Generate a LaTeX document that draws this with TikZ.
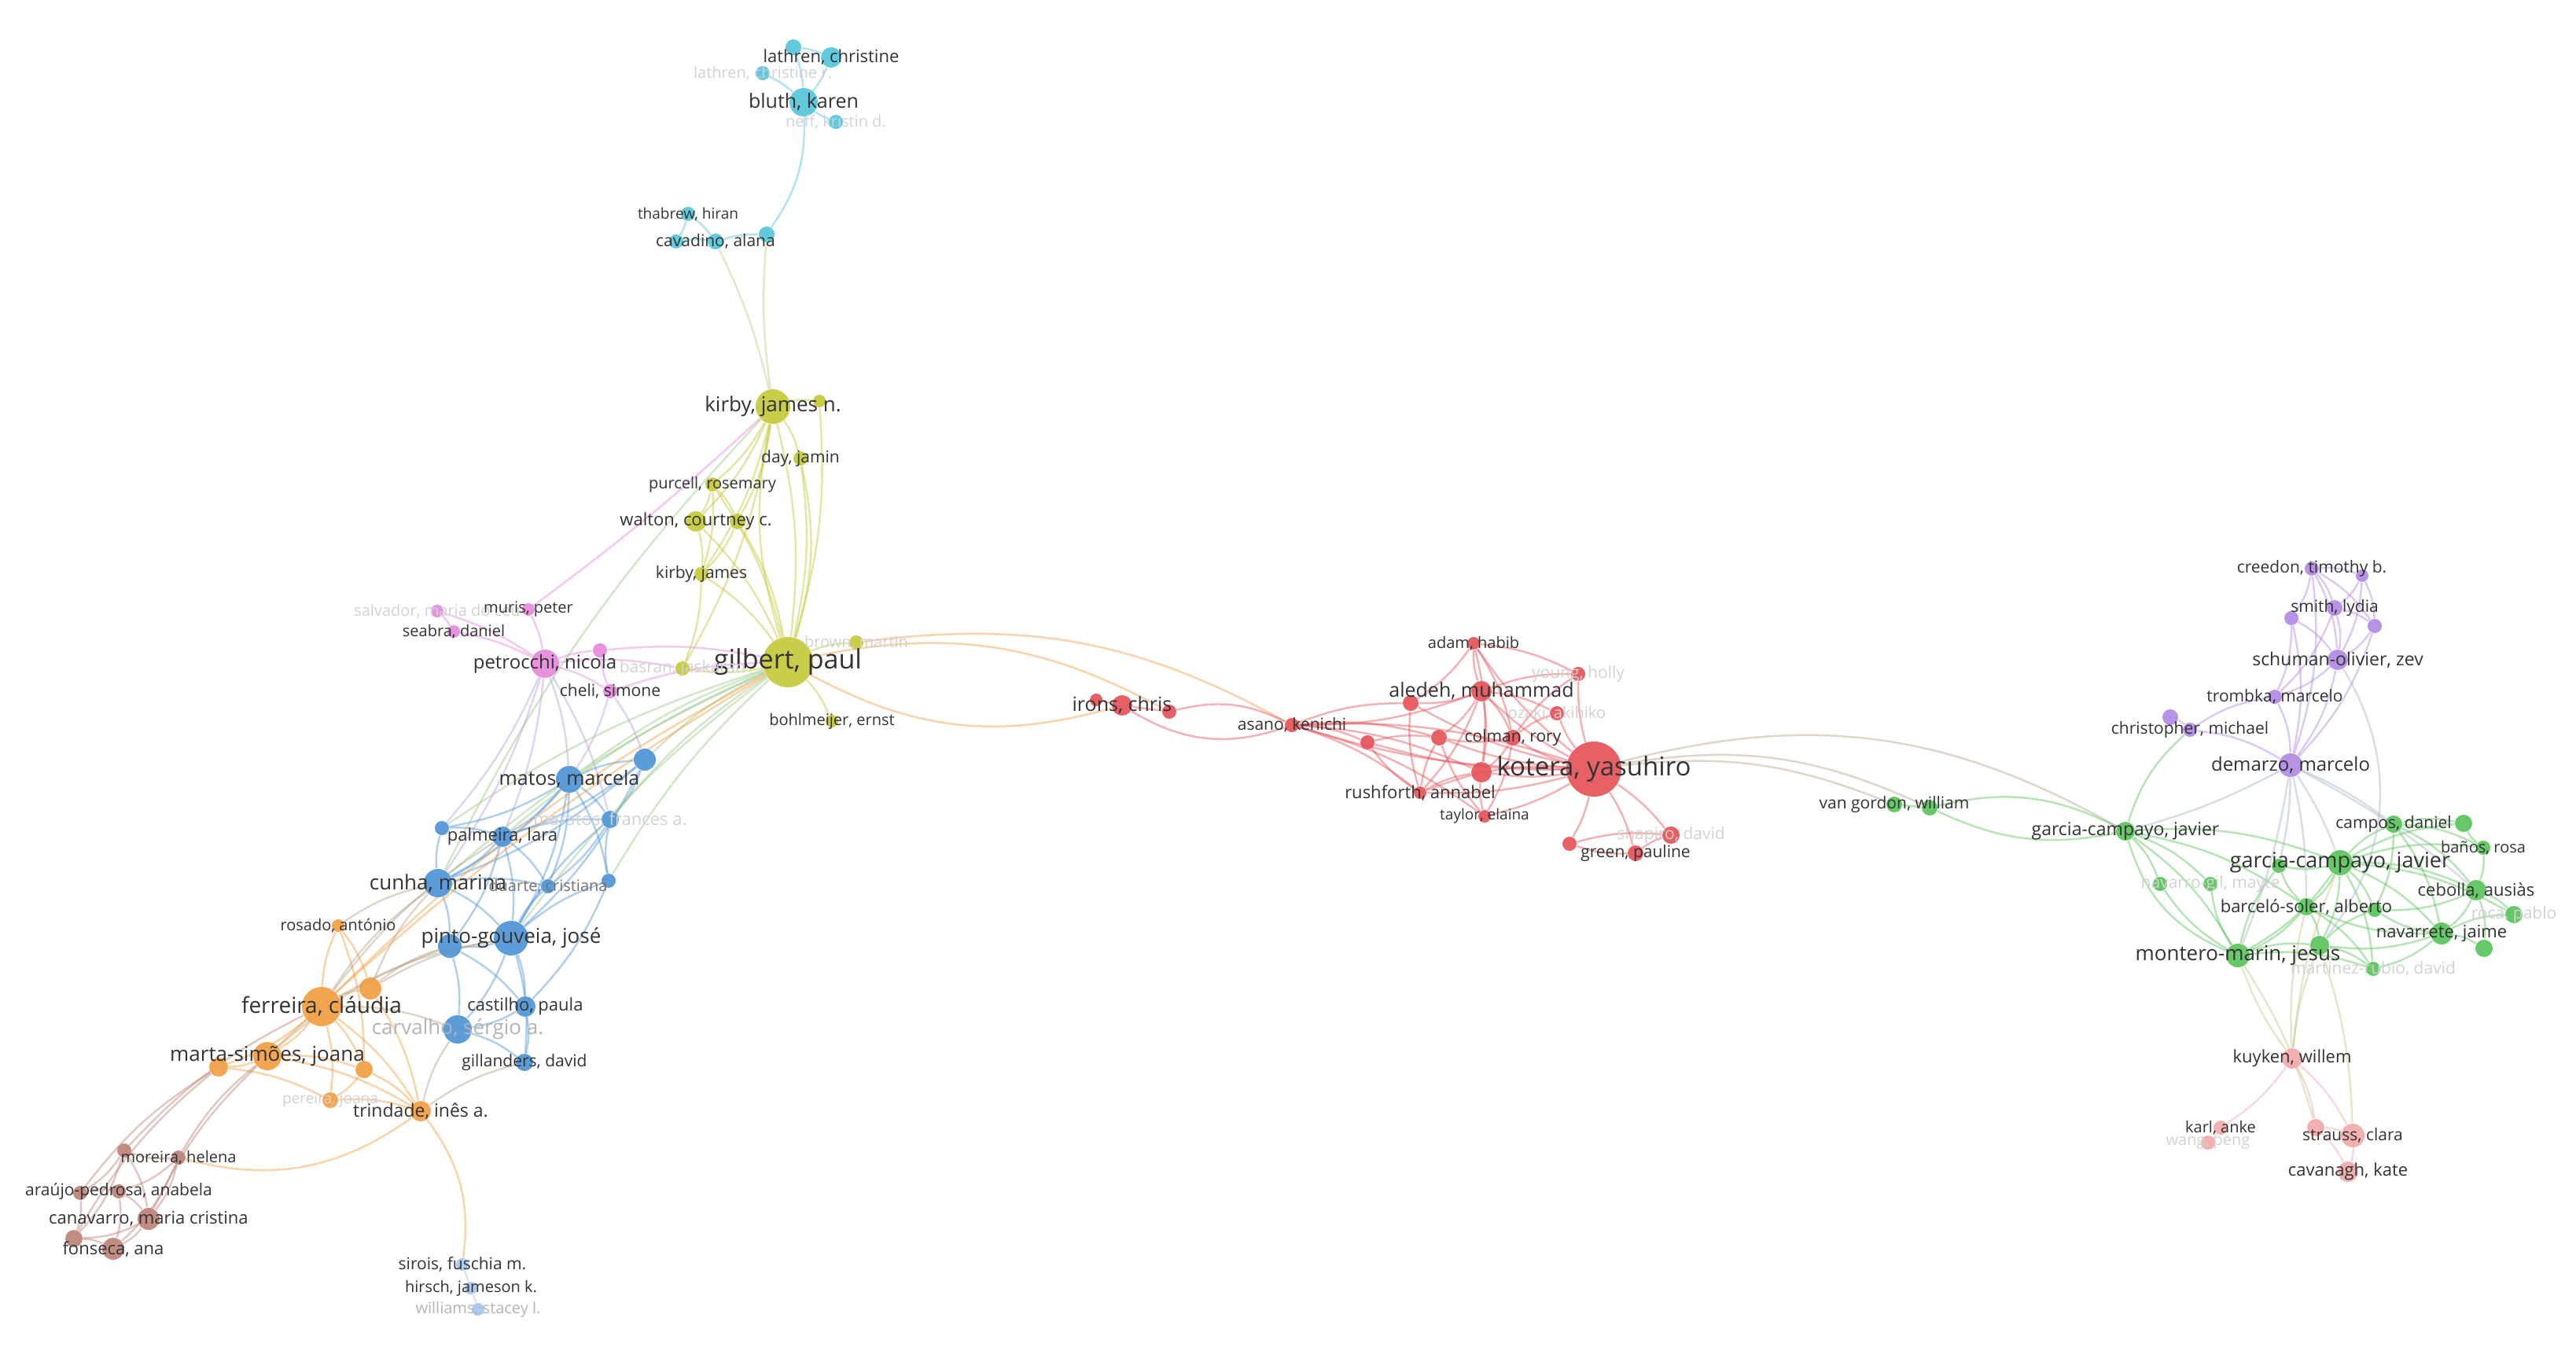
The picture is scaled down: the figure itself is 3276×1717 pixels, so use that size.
\documentclass[tikz,border=0pt]{standalone}
\usepackage{fontspec}
\setmainfont{Open Sans}
\definecolor{cy}{HTML}{56C5DA}
\definecolor{ye}{HTML}{C5C93A}
\definecolor{pk}{HTML}{E589DC}
\definecolor{bl}{HTML}{4F95D6}
\definecolor{or}{HTML}{F29F42}
\definecolor{br}{HTML}{BC8479}
\definecolor{rd}{HTML}{E4535A}
\definecolor{pu}{HTML}{B08AE3}
\definecolor{gr}{HTML}{5BC45B}
\definecolor{lp}{HTML}{F3AAAA}
\definecolor{lb}{HTML}{A8C6EE}
\definecolor{yb}{HTML}{9CC98A}
\definecolor{ob}{HTML}{B9A58C}
\definecolor{gp}{HTML}{A6B8C8}
\definecolor{gl}{HTML}{C9C98E}
\definecolor{lav}{HTML}{B9A2E6}
\definecolor{lbltxt}{HTML}{333333}
\definecolor{faded}{HTML}{D2D2D2}
\definecolor{midfaded}{HTML}{B4B4B4}
\pgfdeclarelayer{bgl}
\pgfdeclarelayer{edges}
\pgfsetlayers{bgl,edges,main}
\newcommand\fpx[1]{\fontsize{\the\dimexpr0.2845pt*#1\relax}{\the\dimexpr0.34pt*#1\relax}\selectfont}
\newcommand\nd[5]{\node[dot,fill=#5,minimum size={#4*0.02cm}] (#1) at (#2,#3) {};}
\newcommand\lb[3]{\node[lbl,font=\fpx{#2}] at (#1) {#3};}
\newcommand\lf[3]{\node[lbl,text=faded,font=\fpx{#2}] at (#1) {#3};}
\newcommand\lm[3]{\node[lbl,text=midfaded,font=\fpx{#2}] at (#1) {#3};}
\begin{document}
\begin{tikzpicture}[x=0.01cm,y=-0.01cm,
  dot/.style={circle,inner sep=0pt,draw=none,fill opacity=0.92},
  lbl/.style={inner sep=0pt,text=lbltxt,anchor=center},
  ec/.style={draw=#1,line width=0.7pt,draw opacity=0.45}]
\begin{pgfonlayer}{bgl}
\fill[white] (0,0) rectangle (3276,1717);
\end{pgfonlayer}
\useasboundingbox (0,0) rectangle (3276,1717);
% ---------- nodes: cyan
\nd{c0}{1009}{60}{10}{cy}
\nd{lathren}{1057}{73}{13}{cy}
\nd{lathrenr}{970}{93}{9}{cy}
\nd{bluth}{1022}{130}{18}{cy}
\nd{neff}{1063}{155}{9}{cy}
\nd{thabrew}{875}{272}{9}{cy}
\nd{cA}{860}{307}{9}{cy}
\nd{cavadino}{910}{307}{10}{cy}
\nd{c3}{975}{298}{10}{cy}
% yellow
\nd{kirbyjn}{983}{517}{22}{ye}
\nd{y1}{1042}{510}{8}{ye}
\nd{day}{1018}{583}{9}{ye}
\nd{purcell}{906}{616}{9}{ye}
\nd{walton}{885}{663}{13}{ye}
\nd{walton2}{938}{663}{10}{ye}
\nd{kirbyj}{892}{730}{9}{ye}
\nd{gilbert}{1002}{842}{32}{ye}
\nd{brown}{1089}{817}{9}{ye}
\nd{basran}{868}{850}{9}{ye}
\nd{bohl}{1058}{917}{8}{ye}
% pink
\nd{salvador}{556}{777}{8}{pk}
\nd{muris}{672}{775}{8}{pk}
\nd{seabra}{577}{803}{8}{pk}
\nd{petrocchi}{693}{844}{18}{pk}
\nd{p1}{763}{827}{9}{pk}
\nd{cheli}{776}{879}{9}{pk}
% blue
\nd{b820}{820}{966}{14}{bl}
\nd{matos}{724}{991}{17}{bl}
\nd{maratos}{776}{1042}{11}{bl}
\nd{xavier}{562}{1053}{9}{bl}
\nd{palmeira}{639}{1064}{13}{bl}
\nd{cunha}{557}{1123}{18}{bl}
\nd{duarte}{697}{1127}{9}{bl}
\nd{b774}{774}{1120}{9}{bl}
\nd{pinto}{650}{1193}{22}{bl}
\nd{b572}{572}{1203}{15}{bl}
\nd{castilho}{668}{1280}{13}{bl}
\nd{carvalho}{582}{1309}{18}{bl}
\nd{gillanders}{667}{1351}{11}{bl}
% orange
\nd{rosado}{430}{1177}{8}{or}
\nd{o471}{471}{1257}{14}{or}
\nd{ferreira}{409}{1280}{25}{or}
\nd{marta}{340}{1343}{18}{or}
\nd{marta2}{278}{1357}{12}{or}
\nd{o463}{463}{1360}{11}{or}
\nd{pereira}{420}{1399}{10}{or}
\nd{trindade}{535}{1413}{13}{or}
% brown
\nd{moreira2}{158}{1463}{9}{br}
\nd{moreira}{227}{1472}{9}{br}
\nd{araujo1}{102}{1517}{9}{br}
\nd{araujo}{151}{1515}{9}{br}
\nd{canavarro}{189}{1550}{14}{br}
\nd{fonseca1}{94}{1575}{11}{br}
\nd{fonseca}{144}{1588}{14}{br}
% light blue
\nd{sirois}{588}{1608}{8}{lb}
\nd{hirsch}{599}{1638}{8}{lb}
\nd{williams}{608}{1665}{8}{lb}
% red
\nd{irons1}{1394}{890}{8}{rd}
\nd{irons}{1427}{897}{13}{rd}
\nd{irons2}{1487}{905}{9}{rd}
\nd{asano}{1643}{922}{9}{rd}
\nd{r944}{1739}{944}{9}{rd}
\nd{kirbyR}{1830}{938}{10}{rd}
\nd{adam}{1874}{818}{8}{rd}
\nd{young}{2007}{857}{9}{rd}
\nd{aledeh1}{1794}{894}{10}{rd}
\nd{aledeh}{1884}{879}{13}{rd}
\nd{ozaki}{1980}{907}{9}{rd}
\nd{colman}{1924}{938}{10}{rd}
\nd{rK}{1884}{982}{13}{rd}
\nd{kotera}{2027}{978}{35}{rd}
\nd{rushforth}{1806}{1008}{8}{rd}
\nd{taylor}{1888}{1038}{8}{rd}
\nd{r1073}{1996}{1073}{9}{rd}
\nd{shapiro}{2125}{1062}{11}{rd}
\nd{green}{2080}{1085}{10}{rd}
% green
\nd{vg1}{2409}{1023}{10}{gr}
\nd{vg2}{2454}{1027}{10}{gr}
\nd{garciaL}{2703}{1057}{12}{gr}
\nd{garcia}{2976}{1097}{16}{gr}
\nd{g2898}{2898}{1101}{9}{gr}
\nd{campos}{3044}{1048}{11}{gr}
\nd{campos2}{3133}{1047}{11}{gr}
\nd{banos}{3158}{1078}{9}{gr}
\nd{navarro1}{2747}{1124}{9}{gr}
\nd{navarro}{2811}{1124}{9}{gr}
\nd{cebolla}{3149}{1132}{13}{gr}
\nd{barcelo}{2933}{1153}{11}{gr}
\nd{barcelo2}{3020}{1157}{9}{gr}
\nd{roca}{3197}{1163}{11}{gr}
\nd{navarrete}{3105}{1187}{14}{gr}
\nd{g3159}{3159}{1206}{11}{gr}
\nd{montero}{2846}{1215}{15}{gr}
\nd{montero2}{2950}{1202}{12}{gr}
\nd{martinez}{3018}{1232}{9}{gr}
% purple
\nd{creedon}{2940}{723}{9}{pu}
\nd{creedon2}{3004}{732}{8}{pu}
\nd{smith}{2969}{773}{10}{pu}
\nd{smith2}{2914}{786}{9}{pu}
\nd{pu3}{3020}{796}{9}{pu}
\nd{schuman}{2973}{839}{13}{pu}
\nd{trombka}{2893}{886}{9}{pu}
\nd{christopher1}{2760}{912}{10}{pu}
\nd{christopher}{2785}{928}{9}{pu}
\nd{demarzo}{2913}{973}{15}{pu}
% light pink
\nd{kuyken}{2915}{1346}{13}{lp}
\nd{karl}{2824}{1434}{9}{lp}
\nd{wang}{2808}{1453}{9}{lp}
\nd{strauss1}{2945}{1434}{11}{lp}
\nd{strauss}{2992}{1444}{15}{lp}
\nd{cavanagh}{2986}{1490}{13}{lp}
% ---------- edges
\begin{pgfonlayer}{edges}
\foreach \a/\b in {c0/bluth,lathren/bluth,lathrenr/bluth,neff/bluth,c0/lathren,thabrew/cA,thabrew/cavadino,cA/cavadino,cavadino/c3}
  \draw[ec=cy] (\a) to[bend left=8] (\b);
\draw[ec=cy] (bluth) to[bend left=18] (c3);
\draw[ec=gl] (c3) to[bend right=6] (kirbyjn);
\draw[ec=gl] (cavadino) to[bend left=6] (kirbyjn);
\foreach \a/\b in {kirbyjn/y1,kirbyjn/day,kirbyjn/purcell,kirbyjn/walton,kirbyjn/walton2,kirbyjn/kirbyj,kirbyjn/gilbert,y1/gilbert,day/gilbert,purcell/walton,purcell/kirbyj,purcell/walton2,purcell/gilbert,walton/kirbyj,walton/gilbert,walton2/gilbert,walton2/kirbyj,kirbyj/gilbert,kirbyj/basran,gilbert/brown,gilbert/bohl,gilbert/basran,kirbyjn/basran}
  \draw[ec=ye] (\a) to[bend left=10] (\b);
\draw[ec=ye] (kirbyjn) to[bend right=14] (gilbert);
\draw[ec=ye] (day) to[bend left=14] (gilbert);
\foreach \a/\b in {salvador/seabra,salvador/petrocchi,seabra/petrocchi,muris/petrocchi,petrocchi/p1,petrocchi/cheli,cheli/p1,petrocchi/basran,cheli/gilbert,p1/gilbert}
  \draw[ec=pk] (\a) to[bend left=8] (\b);
\draw[ec=pk] (muris) to[bend right=3] (kirbyjn);
\foreach \a/\b in {petrocchi/matos,petrocchi/palmeira,petrocchi/cunha,petrocchi/xavier,petrocchi/maratos,cheli/b820,cheli/matos}
  \draw[ec=lav] (\a) to[bend left=8] (\b);
\foreach \a/\b in {matos/b820,matos/maratos,matos/palmeira,matos/cunha,matos/pinto,matos/duarte,matos/b774,matos/xavier,palmeira/cunha,palmeira/pinto,palmeira/duarte,palmeira/maratos,palmeira/b572,cunha/pinto,cunha/b572,cunha/duarte,cunha/xavier,pinto/b572,pinto/castilho,pinto/carvalho,pinto/gillanders,pinto/maratos,pinto/b774,pinto/duarte,b572/carvalho,b572/castilho,castilho/carvalho,castilho/gillanders,carvalho/gillanders,b774/maratos,b820/maratos,b820/pinto,b820/cunha,b774/castilho,xavier/palmeira,maratos/duarte,b820/palmeira}
  \draw[ec=bl] (\a) to[bend left=10] (\b);
\foreach \a/\b in {gilbert/matos,gilbert/cunha,gilbert/pinto,gilbert/palmeira,gilbert/maratos,gilbert/b774,gilbert/b820,kirbyjn/cunha,gilbert/xavier}
  \draw[ec=yb] (\a) to[bend right=8] (\b);
\foreach \a/\b in {ferreira/o471,ferreira/rosado,ferreira/marta,ferreira/marta2,ferreira/o463,ferreira/pereira,ferreira/trindade,marta/marta2,marta/o463,marta/trindade,o463/trindade,o463/pereira,pereira/trindade,rosado/o471,o471/trindade,rosado/o463,marta2/pereira}
  \draw[ec=or] (\a) to[bend left=10] (\b);
\foreach \a/\b in {ferreira/cunha,ferreira/pinto,ferreira/carvalho,o471/pinto,o471/b572,o471/cunha,trindade/carvalho,trindade/gillanders,marta/b572,ferreira/palmeira,rosado/cunha}
  \draw[ec=ob] (\a) to[bend left=10] (\b);
\draw[ec=or] (ferreira) to[bend left=8] (gilbert);
\draw[ec=or] (marta) to[bend left=6] (gilbert);
\draw[ec=or] (trindade) to[bend left=25] (moreira);
\draw[ec=or] (trindade) to[bend left=22] (sirois);
\foreach \a/\b in {marta/moreira,marta2/fonseca1,marta2/araujo1,marta/canavarro,ferreira/moreira2}
  \draw[ec=br] (\a) to[bend right=10] (\b);
\foreach \a/\b in {moreira/moreira2,moreira/araujo,moreira/canavarro,moreira/fonseca,moreira2/araujo1,araujo1/araujo,araujo/canavarro,canavarro/fonseca,fonseca1/fonseca,araujo1/fonseca1,canavarro/fonseca1,moreira2/canavarro,araujo/fonseca,moreira2/fonseca1}
  \draw[ec=br] (\a) to[bend left=12] (\b);
\draw[ec=lb] (sirois) -- (hirsch);
\draw[ec=lb] (hirsch) -- (williams);
% long yellow-red
\draw[ec=or] (gilbert) to[bend right=22] (irons);
\draw[ec=or] (brown) to[bend left=18] (asano);
\draw[ec=or] (gilbert) to[bend left=20] (irons2);
% red
\draw[ec=rd] (irons1) -- (irons);
\draw[ec=rd] (irons) -- (irons2);
\draw[ec=rd] (irons) to[bend right=25] (asano);
\draw[ec=rd] (irons2) to[bend left=20] (asano);
\foreach \b in {adam,young,aledeh,aledeh1,ozaki,colman,rK,rushforth,taylor,r1073,shapiro,green,asano,r944,kirbyR}
  \draw[ec=rd] (kotera) to[bend left=8] (\b);
\draw[ec=rd] (kotera) to[bend right=10] (asano);
\draw[ec=rd] (kotera) to[bend right=12] (rushforth);
\foreach \a/\b in {aledeh/adam,aledeh/aledeh1,aledeh/colman,aledeh/rushforth,aledeh/rK,aledeh/kirbyR,aledeh/asano,aledeh/ozaki,aledeh/young,adam/aledeh1,adam/colman,adam/young,adam/rK,asano/aledeh1,asano/r944,asano/kirbyR,asano/rK,asano/taylor,asano/rushforth,colman/rK,colman/young,colman/ozaki,colman/taylor,colman/kirbyR,rushforth/rK,rushforth/aledeh1,rushforth/kirbyR,rushforth/r944,taylor/rK,taylor/kirbyR,green/shapiro,green/r1073,r1073/shapiro,r944/kirbyR}
  \draw[ec=rd] (\a) to[bend left=10] (\b);
% red-green long
\draw[ec=ob] (kotera) to[bend left=22] (garciaL);
\draw[ec=ob] (kotera) to[bend left=14] (vg1);
\draw[ec=ob] (kotera) to[bend left=17] (vg2);
\draw[ec=gr] (vg1) -- (vg2);
\draw[ec=gr] (vg2) to[bend left=20] (garciaL);
\draw[ec=gr] (vg2) to[bend right=18] (garciaL);
% green
\foreach \a/\b in {garciaL/garcia,garciaL/montero,garciaL/navarro1,garciaL/navarro,garciaL/barcelo,garcia/campos,garcia/barcelo,garcia/cebolla,garcia/navarrete,garcia/montero,garcia/g2898,garcia/montero2,garcia/banos,garcia/barcelo2,garcia/roca,garcia/martinez,garcia/campos2,campos/campos2,campos/banos,campos/cebolla,campos/barcelo2,campos/navarrete,banos/cebolla,banos/campos2,cebolla/navarrete,cebolla/roca,cebolla/barcelo2,cebolla/g3159,navarrete/roca,navarrete/g3159,navarrete/barcelo,navarrete/montero2,navarrete/martinez,navarrete/barcelo2,barcelo/montero,barcelo/martinez,barcelo/montero2,barcelo/g2898,montero/montero2,montero/navarro,montero/navarro1,montero/martinez,montero/g2898,montero2/martinez,montero2/barcelo2}
  \draw[ec=gr] (\a) to[bend left=12] (\b);
\draw[ec=gr] (garciaL) to[bend left=15] (christopher);
\draw[ec=gr] (montero) to[bend left=25] (garciaL);
\foreach \a/\b in {demarzo/garcia,demarzo/barcelo,demarzo/campos,demarzo/cebolla,demarzo/montero,demarzo/g2898,demarzo/garciaL}
  \draw[ec=gp] (\a) to[bend left=6] (\b);
\draw[ec=gp] (schuman) to[bend left=35] (montero2);
% purple
\foreach \a/\b in {creedon/creedon2,creedon/smith,creedon/smith2,creedon/schuman,creedon2/smith,creedon2/schuman,creedon2/pu3,smith/schuman,smith/pu3,smith2/schuman,smith2/trombka,pu3/schuman,schuman/trombka,schuman/demarzo,trombka/demarzo,smith2/demarzo,creedon/demarzo,christopher1/christopher,christopher/trombka,christopher/demarzo,creedon/pu3,smith/trombka,pu3/demarzo}
  \draw[ec=pu] (\a) to[bend left=12] (\b);
% green - light pink
\foreach \a/\b in {kuyken/montero,kuyken/garcia,kuyken/barcelo,montero/strauss1,montero2/strauss,kuyken/montero2}
  \draw[ec=gl] (\a) to[bend left=8] (\b);
\foreach \a/\b in {kuyken/strauss1,kuyken/strauss,kuyken/karl,strauss/cavanagh,strauss1/cavanagh,karl/wang,strauss1/strauss}
  \draw[ec=lp] (\a) to[bend left=10] (\b);
\end{pgfonlayer}
% ---------- labels
\lb{lathren}{22}{lathren, christine}
\lf{lathrenr}{20}{lathren, christine r.}
\lb{bluth}{25}{bluth, karen}
\lf{neff}{20}{neff, kristin d.}
\lb{thabrew}{19}{thabrew, hiran}
\lb{cavadino}{21}{cavadino, alana}
\lb{kirbyjn}{26}{kirby, james n.}
\lb{day}{21}{day, jamin}
\lb{purcell}{20}{purcell, rosemary}
\lb{walton}{22}{walton, courtney c.}
\lb{kirbyj}{21}{kirby, james}
\lb{gilbert}{34}{gilbert, paul}
\lf{brown}{20}{brown, martin}
\lf{basran}{21}{basran, jaskaran}
\lb{bohl}{20}{bohlmeijer, ernst}
\lf{salvador}{20}{salvador, maria do céu}
\lb{muris}{20}{muris, peter}
\lb{seabra}{20}{seabra, daniel}
\lb{petrocchi}{24}{petrocchi, nicola}
\lb{cheli}{21}{cheli, simone}
\lb{matos}{25}{matos, marcela}
\lf{maratos}{22}{maratos, frances a.}
\lb{palmeira}{22}{palmeira, lara}
\lb{cunha}{26}{cunha, marina}
\node[lbl,text=black!55,font=\fpx{20}] at (duarte) {duarte, cristiana};
\lb{pinto}{26}{pinto-gouveia, josé}
\lb{castilho}{22}{castilho, paula}
\lm{carvalho}{26}{carvalho, sérgio a.}
\lb{gillanders}{21}{gillanders, david}
\lb{rosado}{20}{rosado, antónio}
\lb{ferreira}{28}{ferreira, cláudia}
\lb{marta}{26}{marta-simões, joana}
\lf{pereira}{19}{pereira, joana}
\lb{trindade}{23}{trindade, inês a.}
\lb{moreira}{20}{moreira, helena}
\lb{araujo}{21}{araújo-pedrosa, anabela}
\lb{canavarro}{22}{canavarro, maria cristina}
\lb{fonseca}{22}{fonseca, ana}
\lb{sirois}{21}{sirois, fuschia m.}
\lb{hirsch}{20}{hirsch, jameson k.}
\lm{williams}{20}{williams, stacey l.}
\lb{irons}{25}{irons, chris}
\lb{asano}{21}{asano, kenichi}
\lb{adam}{20}{adam, habib}
\lf{young}{21}{young, holly}
\lb{aledeh}{25}{aledeh, muhammad}
\lf{ozaki}{20}{ozaki, akihiko}
\lb{colman}{21}{colman, rory}
\lb{kotera}{33}{kotera, yasuhiro}
\lb{rushforth}{22}{rushforth, annabel}
\lb{taylor}{19}{taylor, elaina}
\lf{shapiro}{21}{shapiro, david}
\lb{green}{21}{green, pauline}
\lb{vg1}{21}{van gordon, william}
\lb{garciaL}{23}{garcia-campayo, javier}
\lb{garcia}{27}{garcia-campayo, javier}
\lb{campos}{21}{campos, daniel}
\lb{banos}{20}{baños, rosa}
\lf{navarro}{21}{navarro-gil, mayte}
\lb{cebolla}{22}{cebolla, ausiàs}
\lb{barcelo}{22}{barceló-soler, alberto}
\lf{roca}{21}{roca, pablo}
\lb{navarrete}{22}{navarrete, jaime}
\lb{montero}{26}{montero-marin, jesus}
\lf{martinez}{21}{martinez-rubio, david}
\lb{creedon}{21}{creedon, timothy b.}
\lb{smith}{21}{smith, lydia}
\lb{schuman}{23}{schuman-olivier, zev}
\lb{trombka}{21}{trombka, marcelo}
\lb{christopher}{21}{christopher, michael}
\lb{demarzo}{24}{demarzo, marcelo}
\lb{kuyken}{22}{kuyken, willem}
\lb{karl}{20}{karl, anke}
\lf{wang}{20}{wang, peng}
\lb{strauss}{21}{strauss, clara}
\lb{cavanagh}{22}{cavanagh, kate}
\end{tikzpicture}
\end{document}
